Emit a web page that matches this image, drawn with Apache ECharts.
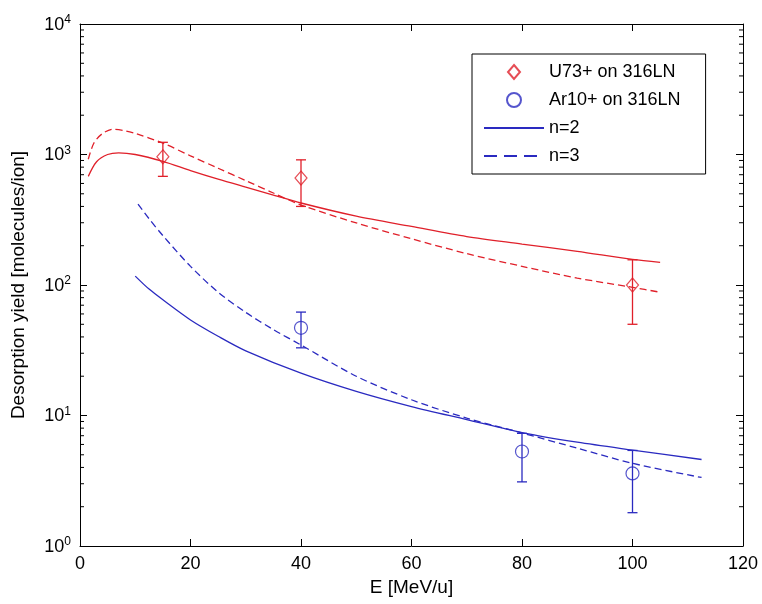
<!DOCTYPE html>
<html>
<head>
<meta charset="utf-8">
<script src="https://cdn.jsdelivr.net/npm/echarts@6/dist/echarts.min.js"></script>
<style>
html,body{margin:0;padding:0;background:#fff;}
#chart{width:762px;height:604px;}
</style>
</head>
<body>
<div id="chart"></div>
<script>
// ---------- data ----------
const xTickValues = [0, 20, 40, 60, 80, 100, 120];
const yTickExponents = [0, 1, 2, 3, 4];
const minorTickValues = [2,3,4,5,6,7,8,9,20,30,40,50,60,70,80,90,200,300,400,500,600,700,800,900,2000,3000,4000,5000,6000,7000,8000,9000];

// measured points: U73+ on 316LN
const energyU = [15, 40, 100];
const yieldU = [960, 660, 100];
const errLowU = [680, 400, 50];
const errHighU = [1240, 910, 156];

// measured points: Ar10+ on 316LN
const energyAr = [40, 80, 100];
const yieldAr = [47, 5.3, 3.6];
const errLowAr = [33, 3.1, 1.8];
const errHighAr = [62, 7.3, 5.4];

// model curves, U73+
const energyUn2 = [1.5, 3, 5, 7, 10, 15, 20, 25, 30, 35, 40, 50, 60, 70, 80, 90, 100, 105];
const yieldUn2  = [680, 880, 1000, 1030, 1000, 885, 753, 647, 562, 489, 425, 337, 281, 235, 206, 181, 157, 149];
const energyUn3 = [1.5, 2.5, 4, 6, 8, 10, 15, 20, 25, 30, 35, 40, 50, 60, 70, 80, 90, 100, 105];
const yieldUn3  = [920, 1220, 1440, 1560, 1525, 1450, 1222, 977, 785, 631, 507, 410, 299, 226, 174, 139, 113, 96, 88];

// model curves, Ar10+
const energyArn2 = [10, 12.5, 15, 20, 25, 30, 40, 50, 60, 70, 80, 90, 100, 112.5];
const yieldArn2  = [117, 93, 77, 54, 40.5, 31.3, 21.1, 15.3, 11.7, 9.3, 7.4, 6.24, 5.43, 4.6];
const energyArn3 = [10.5, 12.5, 15, 20, 25, 30, 35, 40, 50, 60, 70, 80, 90, 100, 112.5];
const yieldArn3  = [417, 322, 239, 139, 88, 61.7, 45.5, 34.7, 20, 13.2, 9.55, 7.35, 5.62, 4.3, 3.35];

// ---------- styling ----------
const RED = '#e0202a';
const BLUE = '#2a2ac0';
const FONT = 'Liberation Sans, Arial, sans-serif';

const zip = (xs, ys) => xs.map((x, i) => [x, ys[i]]);
const errData = (xs, lo, hi) => xs.map((x, i) => [x, lo[i], hi[i]]);

function errRender(color) {
  return function (params, api) {
    const x = api.value(0), lo = api.value(1), hi = api.value(2);
    const pLo = api.coord([x, lo]);
    const pHi = api.coord([x, hi]);
    const hw = 5;
    const style = { stroke: color, lineWidth: 1.3 };
    return {
      type: 'group',
      children: [
        { type: 'line', shape: { x1: pLo[0], y1: pLo[1], x2: pHi[0], y2: pHi[1] }, style },
        { type: 'line', shape: { x1: pLo[0] - hw, y1: pLo[1], x2: pLo[0] + hw, y2: pLo[1] }, style },
        { type: 'line', shape: { x1: pHi[0] - hw, y1: pHi[1], x2: pHi[0] + hw, y2: pHi[1] }, style }
      ]
    };
  };
}

function minorTickRender(params, api) {
  const cs = params.coordSys;
  const y = api.coord([0, api.value(1)])[1];
  const len = 4;
  const style = { stroke: '#000', lineWidth: 1 };
  return {
    type: 'group',
    children: [
      { type: 'line', shape: { x1: cs.x, y1: y, x2: cs.x + len, y2: y }, style },
      { type: 'line', shape: { x1: cs.x + cs.width - len, y1: y, x2: cs.x + cs.width, y2: y }, style }
    ]
  };
}

const chart = echarts.init(document.getElementById('chart'), null, { renderer: 'canvas' });

const axisLineStyle = { show: true, onZero: false, lineStyle: { color: '#000', width: 1 } };
const tickStyle = { show: true, inside: true, length: 7, lineStyle: { color: '#000', width: 1 } };
const diamondIcon = 'path://M6,0L12,7L6,14L0,7Z';

const option = {
  animation: false,
  backgroundColor: '#fff',
  textStyle: { fontFamily: FONT },
  grid: { left: 80, top: 24, right: 19, bottom: 58, containLabel: false },
  legend: {
    data: [
      { name: 'U73+ on 316LN', icon: diamondIcon },
      { name: 'Ar10+ on 316LN' },
      { name: 'n=2', itemStyle: { color: 'rgba(0,0,0,0)', borderWidth: 0, opacity: 0 } },
      { name: 'n=3', itemStyle: { color: 'rgba(0,0,0,0)', borderWidth: 0, opacity: 0 }, lineStyle: { type: [13, 7] } }
    ],
    orient: 'vertical',
    left: 472,
    top: 54,
    itemWidth: 60,
    itemHeight: 14,
    itemGap: 10,
    padding: [9, 25, 9, 11],
    borderColor: '#000',
    borderWidth: 1,
    borderRadius: 0,
    backgroundColor: '#fff',
    selectedMode: false,
    symbolKeepAspect: true,
    textStyle: { fontSize: 18, lineHeight: 18, color: '#000', fontFamily: FONT }
  },
  xAxis: [
    {
      type: 'value', min: xTickValues[0], max: xTickValues[xTickValues.length - 1], interval: 20,
      position: 'bottom',
      name: 'E [MeV/u]', nameLocation: 'middle', nameGap: 32,
      nameTextStyle: { fontSize: 19, color: '#000', fontFamily: FONT },
      axisLine: axisLineStyle,
      axisTick: tickStyle,
      axisLabel: { fontSize: 18, color: '#000', margin: 9, fontFamily: FONT },
      splitLine: { show: false }
    },
    {
      type: 'value', min: xTickValues[0], max: xTickValues[xTickValues.length - 1], interval: 20,
      position: 'top',
      axisLine: axisLineStyle,
      axisTick: tickStyle,
      axisLabel: { show: false },
      splitLine: { show: false }
    }
  ],
  yAxis: [
    {
      type: 'log', logBase: 10,
      min: Math.pow(10, yTickExponents[0]), max: Math.pow(10, yTickExponents[yTickExponents.length - 1]),
      position: 'left',
      name: 'Desorption yield [molecules/ion]', nameLocation: 'middle', nameGap: 52,
      nameTextStyle: { fontSize: 19, color: '#000', fontFamily: FONT },
      axisLine: axisLineStyle,
      axisTick: tickStyle,
      axisLabel: {
        margin: 9,
        formatter: v => '{b|10}{s|' + Math.round(Math.log10(v)) + '}',
        rich: {
          b: { fontSize: 18, lineHeight: 20, verticalAlign: 'bottom', color: '#000', fontFamily: FONT },
          s: { fontSize: 12, lineHeight: 12, verticalAlign: 'top', padding: [0, 0, 12, 0], color: '#000', fontFamily: FONT }
        }
      },
      splitLine: { show: false }
    },
    {
      type: 'log', logBase: 10,
      min: Math.pow(10, yTickExponents[0]), max: Math.pow(10, yTickExponents[yTickExponents.length - 1]),
      position: 'right',
      axisLine: axisLineStyle,
      axisTick: tickStyle,
      axisLabel: { show: false },
      splitLine: { show: false }
    }
  ],
  series: [
    {
      name: 'minor ticks', type: 'custom', silent: true,
      renderItem: minorTickRender,
      encode: { x: 0, y: 1 },
      data: minorTickValues.map(v => [0, v]),
      clip: false, z: 1
    },
    {
      name: 'U73+ n=2', type: 'line', data: zip(energyUn2, yieldUn2),
      showSymbol: false, symbol: 'none', smooth: 0.3,
      lineStyle: { color: RED, width: 1.3 }, itemStyle: { color: RED }, z: 3
    },
    {
      name: 'U73+ n=3', type: 'line', data: zip(energyUn3, yieldUn3),
      showSymbol: false, symbol: 'none', smooth: 0.3,
      lineStyle: { color: RED, width: 1.3, type: [7, 4] }, itemStyle: { color: RED }, z: 3
    },
    {
      name: 'n=2', type: 'line', data: zip(energyArn2, yieldArn2),
      showSymbol: false, symbol: 'none', smooth: 0.3,
      lineStyle: { color: BLUE, width: 1.3 }, itemStyle: { color: BLUE }, z: 3
    },
    {
      name: 'n=3', type: 'line', data: zip(energyArn3, yieldArn3),
      showSymbol: false, symbol: 'none', smooth: 0.3,
      lineStyle: { color: BLUE, width: 1.3, type: [7, 4] }, itemStyle: { color: BLUE }, z: 3
    },
    {
      name: 'U73+ errors', type: 'custom', renderItem: errRender(RED),
      encode: { x: 0, y: [1, 2] }, data: errData(energyU, errLowU, errHighU), z: 4
    },
    {
      name: 'Ar10+ errors', type: 'custom', renderItem: errRender(BLUE),
      encode: { x: 0, y: [1, 2] }, data: errData(energyAr, errLowAr, errHighAr), z: 4
    },
    {
      name: 'U73+ on 316LN', type: 'scatter', data: zip(energyU, yieldU),
      symbol: 'diamond', symbolSize: [12, 14], symbolKeepAspect: true,
      itemStyle: { color: 'rgba(255,255,255,0)', borderColor: RED, borderWidth: 1.2 }, z: 5
    },
    {
      name: 'Ar10+ on 316LN', type: 'scatter', data: zip(energyAr, yieldAr),
      symbol: 'circle', symbolSize: 13,
      itemStyle: { color: 'rgba(255,255,255,0)', borderColor: BLUE, borderWidth: 1.2 }, z: 5
    }
  ]
};

chart.setOption(option);
</script>
</body>
</html>
